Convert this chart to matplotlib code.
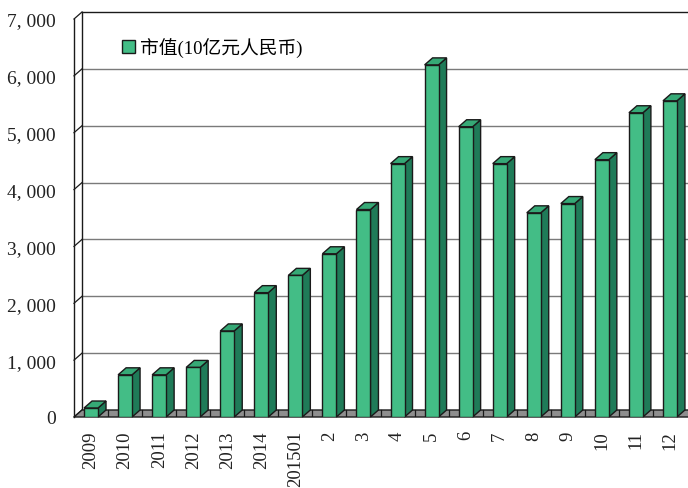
import matplotlib
matplotlib.use("Agg")
import matplotlib.pyplot as plt
from matplotlib.patches import Polygon

plt.rcParams['font.family'] = ['Liberation Serif', 'Noto Sans CJK SC']

# Data: market value, RMB 10 billion
categories = ['2009', '2010', '2011', '2012', '2013', '2014', '201501',
              '2', '3', '4', '5', '6', '7', '8', '9', '10', '11', '12']
values = [158, 742, 742, 872, 1514, 2187, 2491, 2871, 3649, 4456,
          6193, 5105, 4456, 3591, 3754, 4526, 5351, 5561]
series_label = '市值(10亿元人民币)'
y_ticks = [0, 1000, 2000, 3000, 4000, 5000, 6000, 7000]
y_tick_labels = ['0', '1, 000', '2, 000', '3, 000', '4, 000', '5, 000', '6, 000', '7, 000']

FRONT = '#43bd86'
SIDE = '#1f7b58'
TOP = '#36a976'
EDGE = '#1a1a1a'
GRID = '#7a7a7a'
FLOOR = '#8e8e8e'

fig = plt.figure(figsize=(6.88, 4.89), dpi=100)
ax = fig.add_axes([74 / 688, 71 / 489, 613 / 688, 398 / 489])
ax.set_xlim(-0.5, len(categories) - 0.5)
ax.set_ylim(0, 7000)
for s in ax.spines.values():
    s.set_visible(False)

# depth of the pseudo-3D box, in data units (about 8 px right, 7 px up)
dx = 8 / (613 / len(categories))
dy = 7 * 7000 / 398
x0, x1 = -0.5, len(categories) - 0.5

# back wall gridlines
for v in y_ticks[1:]:
    col = EDGE if v == y_ticks[-1] else GRID
    ax.plot([x0 + dx, x1 + dx + 1], [v + dy, v + dy], color=col, lw=1.0,
            clip_on=False, zorder=1)
# side wall: front and back verticals plus diagonals at each tick
ax.plot([x0, x0], [0, y_ticks[-1]], color=EDGE, lw=1.0, clip_on=False, zorder=2)
ax.plot([x0 + dx, x0 + dx], [dy, y_ticks[-1] + dy], color=EDGE, lw=1.0,
        clip_on=False, zorder=2)
for v in y_ticks:
    ax.plot([x0, x0 + dx], [v, v + dy], color=EDGE, lw=0.9, clip_on=False, zorder=2)

# floor
floor = Polygon([(x0, 0), (x1 + 1, 0), (x1 + 1 + dx, dy), (x0 + dx, dy)],
                closed=True, fc=FLOOR, ec=EDGE, lw=1.0, clip_on=False, zorder=2)
ax.add_patch(floor)
for k in range(len(categories) - 1):
    b = k + 0.5
    ax.plot([b, b], [0, dy], color=EDGE, lw=0.9, zorder=3)

# bars
w = 0.41
xs = list(range(len(categories)))
bars = ax.bar(xs, values, width=w, color=FRONT, edgecolor=EDGE, linewidth=1.0,
              zorder=5, label=series_label)
for x, v in zip(xs, values):
    xl, xr = x - w / 2, x + w / 2
    side = Polygon([(xr, 0), (xr + dx, dy), (xr + dx, v + dy), (xr, v)],
                   closed=True, fc=SIDE, ec=EDGE, lw=1.0, zorder=4, clip_on=False)
    top = Polygon([(xl, v), (xr, v), (xr + dx, v + dy), (xl + dx, v + dy)],
                  closed=True, fc=TOP, ec=EDGE, lw=1.0, zorder=4, clip_on=False)
    ax.add_patch(side)
    ax.add_patch(top)

ax.set_yticks(y_ticks)
ax.set_yticklabels(y_tick_labels, fontsize=14, color='#222222')
ax.set_xticks(xs)
ax.set_xticklabels(categories, rotation=90, fontsize=13.5, color='#222222',
                   va='top', ha='center')
ax.tick_params(axis='both', length=0)
ax.tick_params(axis='y', pad=13)
ax.tick_params(axis='x', pad=9.5)

leg = ax.legend(handles=[bars], labels=[series_label], loc='upper left',
                bbox_to_anchor=(122 / 688, 1 - 38 / 489),
                bbox_transform=fig.transFigure, frameon=False,
                fontsize=13.5, handlelength=0.68, handleheight=0.68,
                handletextpad=0.3, borderpad=0, borderaxespad=0)

fig.savefig('out.png', dpi=100)
